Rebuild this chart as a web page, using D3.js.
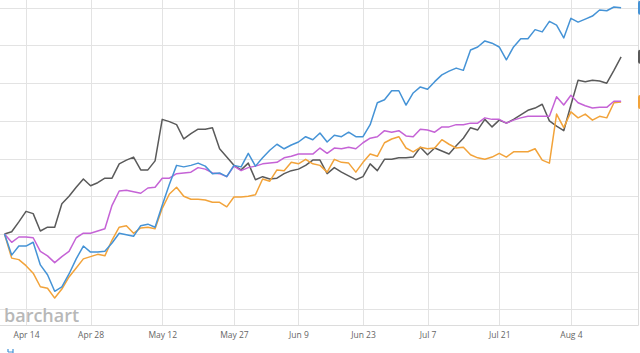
<!DOCTYPE html>
<html>
<head>
<meta charset="utf-8">
<script src="https://cdn.jsdelivr.net/npm/d3@7"></script>
<style>
  body { margin: 0; background: #ffffff; }
  .grid line { stroke: #e3e3e3; stroke-width: 1; }
  .line { fill: none; stroke-width: 1.5; stroke-linejoin: round; }
</style>
</head>
<body>
<div id="chart"></div>
<script>
// Trading days, Apr 9 - Aug 13 2025
var dates = [
  '2025-04-09','2025-04-10','2025-04-11','2025-04-14','2025-04-15','2025-04-16','2025-04-17',
  '2025-04-21','2025-04-22','2025-04-23','2025-04-24','2025-04-25','2025-04-28','2025-04-29','2025-04-30',
  '2025-05-01','2025-05-02','2025-05-05','2025-05-06','2025-05-07','2025-05-08','2025-05-09',
  '2025-05-12','2025-05-13','2025-05-14','2025-05-15','2025-05-16','2025-05-19','2025-05-20',
  '2025-05-21','2025-05-22','2025-05-23','2025-05-27','2025-05-28','2025-05-29','2025-05-30',
  '2025-06-02','2025-06-03','2025-06-04','2025-06-05','2025-06-06','2025-06-09','2025-06-10',
  '2025-06-11','2025-06-12','2025-06-13','2025-06-16','2025-06-17','2025-06-18','2025-06-20',
  '2025-06-23','2025-06-24','2025-06-25','2025-06-26','2025-06-27','2025-06-30',
  '2025-07-01','2025-07-02','2025-07-03','2025-07-07','2025-07-08','2025-07-09','2025-07-10',
  '2025-07-11','2025-07-14','2025-07-15','2025-07-16','2025-07-17','2025-07-18','2025-07-21',
  '2025-07-22','2025-07-23','2025-07-24','2025-07-25','2025-07-28','2025-07-29','2025-07-30','2025-07-31',
  '2025-08-01','2025-08-04','2025-08-05','2025-08-06','2025-08-07','2025-08-08','2025-08-11',
  '2025-08-12','2025-08-13'
];

var tickDates = ['2025-04-14','2025-04-28','2025-05-12','2025-05-27','2025-06-09',
                 '2025-06-23','2025-07-07','2025-07-21','2025-08-04'];

var yTicks = [-10, -5, 0, 5, 10, 15, 20, 25, 30];

// Percent change from start, per series
var blueSeries = [
  0,-2.8,-1.6,-1.6,-1.1,-4.1,-5.4,-7.6,-7.0,-5.3,
  -3.3,-1.6,-2.4,-2.4,-2.3,-1.2,0.1,-0.1,-0.3,1.1,
  1.3,0.9,3.8,6.6,9.1,8.9,9.1,9.4,9.0,8.0,
  8.1,7.6,9.1,8.9,10.7,9.0,10.1,11.1,11.9,11.3,
  11.8,12.2,12.9,12.5,13.4,12.2,13.1,12.9,13.5,12.9,
  12.9,14.5,17.4,17.8,19.0,19.0,17.1,18.7,19.5,19.2,
  20.2,21.1,21.6,22.0,21.7,24.4,24.8,25.6,25.3,24.8,
  23.1,24.8,25.9,25.9,27.1,26.8,28.2,27.7,26.0,28.6,
  28.1,28.5,28.9,29.7,29.6,30.1,30.0
];
var blackSeries = [
  0,0.3,1.6,3.0,2.7,0.4,0.9,0.9,4.0,5.0,
  6.2,7.3,6.4,6.8,7.4,7.4,9.3,9.8,10.2,8.5,
  8.5,9.7,15.2,14.9,14.5,12.6,13.3,13.9,13.9,14.1,
  11.3,10.2,9.1,8.5,9.4,7.2,7.6,7.3,7.4,8.0,
  8.4,8.6,9.1,9.8,9.8,8.0,8.8,8.2,7.7,7.2,
  7.6,9.3,8.4,9.9,9.9,10.1,10.1,10.2,11.5,10.5,
  11.4,11.0,10.6,11.7,12.7,14.1,13.8,15.2,14.2,15.1,
  14.7,15.2,15.8,16.4,16.7,17.2,15.0,14.3,13.7,17.1,
  20.4,20.2,20.4,20.3,20.0,21.7,23.5
];
var magentaSeries = [
  0,-1.1,-0.4,-0.4,-0.5,-2.3,-2.9,-3.8,-3.0,-2.3,
  -0.5,0.1,0.1,0.4,0.7,3.8,5.7,5.8,5.6,5.4,
  6.1,6.2,7.4,7.4,8.0,8.1,8.2,8.8,8.6,8.1,
  8.0,7.6,9.0,8.4,8.8,9.0,9.3,9.4,9.5,10.1,
  10.3,10.6,10.6,10.6,11.4,10.7,11.4,11.3,11.5,11.3,
  12.1,12.7,12.9,13.7,13.5,13.7,13.0,12.9,13.9,13.8,
  13.5,14.2,14.2,14.5,14.5,14.7,14.7,15.4,15.2,15.2,
  14.7,15.1,15.4,15.6,15.6,15.6,15.6,18.2,17.1,18.4,
  17.4,17.0,16.7,16.8,16.8,17.6,17.6
];
var orangeSeries = [
  0,-3.2,-3.4,-4.2,-5.2,-7.0,-7.2,-8.5,-7.3,-5.7,
  -4.5,-3.3,-3.0,-2.7,-2.9,-0.8,0.9,1.1,0.1,0.8,
  0.9,0.7,3.4,5.3,6.2,5.0,4.6,4.6,4.5,4.2,
  4.2,3.6,4.9,4.9,5.0,5.2,7.3,7.0,8.5,8.4,
  9.5,9.3,9.9,9.3,9.1,8.2,9.9,9.5,9.4,8.2,
  9.5,10.6,10.3,12.1,12.6,12.9,11.4,10.9,11.5,11.3,
  11.4,12.5,11.9,11.4,11.5,10.5,10.1,9.9,10.2,10.7,
  10.2,10.9,10.9,10.9,11.3,9.8,9.4,15.9,14.1,16.2,
  15.4,15.9,15.1,15.6,15.4,17.4,17.5
];

function drawChart() {
  //
  // Draws the four-line comparison chart, cropped like the original picture
  //
  var outerWidth = 640;
  var outerHeight = 353;
  var plotRight = 638;
  var plotBottom = 325;

  var series = [
    {id: 'black', color: '#5a5a5a', values: blackSeries},
    {id: 'orange', color: '#f2a33a', values: orangeSeries},
    {id: 'magenta', color: '#c563d6', values: magentaSeries},
    {id: 'blue', color: '#4593d6', values: blueSeries}
  ];

  var svg = d3.select('#chart').append('svg')
    .attr('width', outerWidth)
    .attr('height', outerHeight)
    .style('display', 'block');

  // Scales: one slot per trading day, percent change on y
  var x = d3.scalePoint().domain(dates).range([4.5, 621.1]);
  var y = d3.scaleLinear().domain([-12.07, 31.03]).range([plotBottom, 0]);

  var parse = d3.timeParse('%Y-%m-%d');
  var fmt = d3.timeFormat('%b %-d');

  // Horizontal grid
  svg.append('g')
    .attr('class', 'grid')
    .selectAll('line')
    .data(yTicks)
    .enter().append('line')
      .attr('x1', 0)
      .attr('x2', plotRight)
      .attr('y1', function(d) { return Math.round(y(d)) + 0.5; })
      .attr('y2', function(d) { return Math.round(y(d)) + 0.5; });

  // Vertical grid
  svg.append('g')
    .attr('class', 'grid')
    .selectAll('line')
    .data(tickDates)
    .enter().append('line')
      .attr('x1', function(d) { return Math.round(x(d)) + 0.5; })
      .attr('x2', function(d) { return Math.round(x(d)) + 0.5; })
      .attr('y1', 0)
      .attr('y2', plotBottom);

  // Plot frame (bottom and right)
  svg.append('path')
    .attr('d', 'M0,' + (plotBottom + 0.5) + 'H' + (plotRight + 0.5) + 'V0')
    .attr('fill', 'none')
    .attr('stroke', '#dcdcdc');

  // Watermark
  svg.append('text')
    .attr('x', 4)
    .attr('y', 322)
    .style('font', '600 18px "Open Sans", sans-serif')
    .style('fill', '#b8b8b8')
    .text('barchart');

  // X axis labels
  var xAxis = d3.axisBottom(x)
    .tickValues(tickDates)
    .tickSize(0)
    .tickPadding(7)
    .tickFormat(function(d) { return fmt(parse(d)); });

  var gx = svg.append('g')
    .attr('transform', 'translate(0,' + plotBottom + ')')
    .call(xAxis);
  gx.select('.domain').remove();
  gx.selectAll('text')
    .style('font-family', '"Open Sans", sans-serif')
    .style('font-size', '8.5px')
    .style('fill', '#666666');

  // Lines
  var line = d3.line()
    .x(function(d, i) { return x(dates[i]); })
    .y(function(d) { return y(d); });

  svg.selectAll('.line')
    .data(series)
    .enter().append('path')
      .attr('class', 'line')
      .attr('d', function(d) { return line(d.values); })
      .style('stroke', function(d) { return d.color; });

  // Last-value markers, cut off at the right edge
  svg.selectAll('.marker')
    .data(series.filter(function(d) { return d.id !== 'magenta'; }))
    .enter().append('rect')
      .attr('class', 'marker')
      .attr('x', 638)
      .attr('y', function(d) { return y(d.values[d.values.length - 1]) - 7; })
      .attr('width', 12)
      .attr('height', 14)
      .attr('rx', 2)
      .style('fill', function(d) { return d.color; });

  // Clipped edge of an icon at the bottom left
  svg.append('path')
    .attr('d', 'M8,349V352M8,352H13M13,349V353')
    .attr('fill', 'none')
    .attr('stroke', '#4593d6')
    .attr('stroke-width', 1.2);
}

drawChart();
</script>
</body>
</html>
